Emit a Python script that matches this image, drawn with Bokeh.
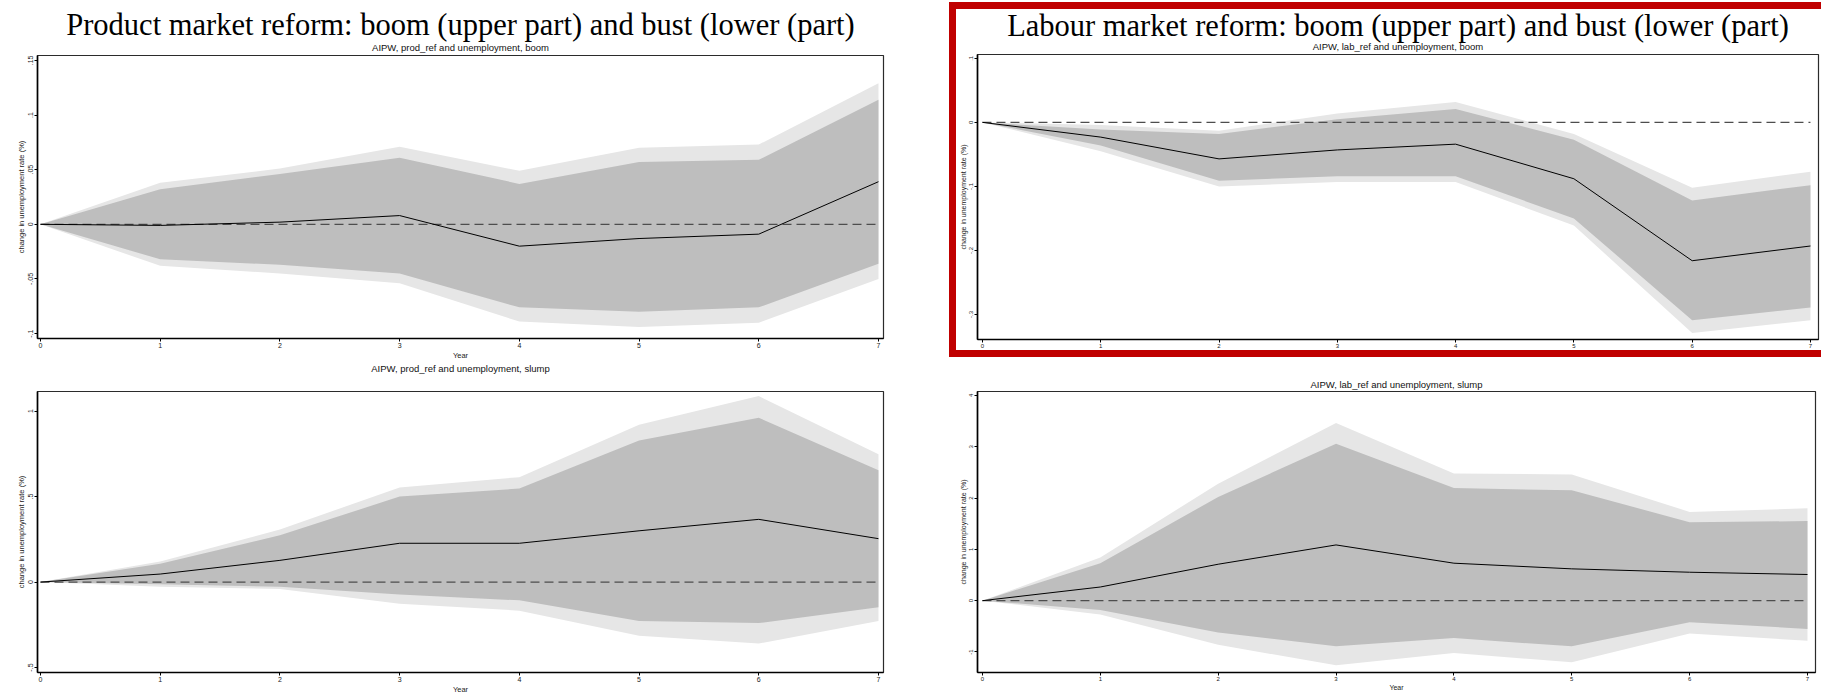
from bokeh.plotting import figure
from bokeh.models import FixedTicker, Title, Div, Spacer, Range1d
from bokeh.layouts import row, column
from bokeh.embed import file_html
from bokeh.resources import INLINE

# Horizon (years after the reform)
years = [0, 1, 2, 3, 4, 5, 6, 7]
zero = [0, 0, 0, 0, 0, 0, 0, 0]

# Product market reform, boom
prod_boom_est = [0, -0.001, 0.002, 0.008, -0.020, -0.013, -0.009, 0.039]
prod_boom_dark_lo = [0, -0.032, -0.037, -0.045, -0.076, -0.080, -0.076, -0.036]
prod_boom_dark_hi = [0, 0.032, 0.046, 0.061, 0.037, 0.057, 0.059, 0.114]
prod_boom_light_lo = [0, -0.038, -0.045, -0.054, -0.089, -0.094, -0.090, -0.050]
prod_boom_light_hi = [0, 0.038, 0.051, 0.071, 0.049, 0.070, 0.073, 0.129]

# Labour market reform, boom
lab_boom_est = [0, -0.023, -0.057, -0.043, -0.034, -0.088, -0.216, -0.193]
lab_boom_dark_lo = [0, -0.036, -0.091, -0.084, -0.084, -0.150, -0.309, -0.289]
lab_boom_dark_hi = [0, -0.011, -0.018, 0.005, 0.021, -0.027, -0.122, -0.098]
lab_boom_light_lo = [0, -0.045, -0.100, -0.093, -0.093, -0.161, -0.329, -0.309]
lab_boom_light_hi = [0, -0.004, -0.013, 0.014, 0.032, -0.018, -0.102, -0.077]

# Product market reform, slump
prod_slump_est = [0, 0.047, 0.127, 0.227, 0.227, 0.300, 0.367, 0.254]
prod_slump_dark_lo = [0, -0.013, -0.027, -0.073, -0.107, -0.227, -0.240, -0.147]
prod_slump_dark_hi = [0, 0.107, 0.274, 0.500, 0.547, 0.828, 0.961, 0.654]
prod_slump_light_lo = [0, -0.027, -0.040, -0.127, -0.167, -0.314, -0.360, -0.227]
prod_slump_light_hi = [0, 0.120, 0.307, 0.554, 0.614, 0.921, 1.088, 0.748]

# Labour market reform, slump
lab_slump_est = [0, 0.266, 0.71, 1.086, 0.73, 0.62, 0.554, 0.51]
lab_slump_dark_lo = [0, -0.18, -0.62, -0.89, -0.73, -0.89, -0.42, -0.55]
lab_slump_dark_hi = [0, 0.73, 2.02, 3.06, 2.195, 2.15, 1.53, 1.55]
lab_slump_light_lo = [0, -0.27, -0.86, -1.26, -1.02, -1.20, -0.64, -0.78]
lab_slump_light_hi = [0, 0.84, 2.28, 3.46, 2.48, 2.46, 1.73, 1.80]

# Tick positions and their Stata-style labels
prod_boom_ticks = [-0.1, -0.05, 0, 0.05, 0.1, 0.15]
prod_boom_labels = ["-.1", "-.05", "0", ".05", ".1", ".15"]
lab_boom_ticks = [-0.3, -0.2, -0.1, 0, 0.1]
lab_boom_labels = ["-.3", "-.2", "-.1", "0", ".1"]
prod_slump_ticks = [-0.5, 0, 0.5, 1]
prod_slump_labels = ["-.5", "0", ".5", "1"]
lab_slump_ticks = [-1, 0, 1, 2, 3, 4]
lab_slump_labels = ["-1", "0", "1", "2", "3", "4"]

# Headings
prod_heading = "Product market reform: boom (upper part) and bust (lower (part)"
lab_heading = "Labour market reform: boom (upper part) and bust (lower (part)"
prod_boom_sub = "AIPW, prod_ref and unemployment, boom"
lab_boom_sub = "AIPW, lab_ref and unemployment, boom"
prod_slump_sub = "AIPW, prod_ref and unemployment, slump"
lab_slump_sub = "AIPW, lab_ref and unemployment, slump"

LIGHT = "#e6e6e6"
DARK = "#bebebe"
RED = "#c00000"
SANS = "Liberation Sans"
SERIF = "Liberation Serif"


def sub_title(text, standoff, valign="bottom"):
    return Title(text=text, align="center", text_font=SANS,
                 text_font_size="9.5px", text_font_style="normal",
                 text_color="#111111", standoff=standoff,
                 vertical_align=valign)


def heading(text, standoff):
    return Title(text=text, align="center", text_font=SERIF,
                 text_font_size="30.5px", text_font_style="normal",
                 text_color="black", standoff=standoff)


def make_panel(width, height, x_rng, y_rng, est, dlo, dhi, llo, lhi,
               yticks, ylabels, borders, tick_font="7px",
               label_font="7.5px", xlabel="Year"):
    left, right, top, bottom = borders
    p = figure(width=width, height=height,
               x_range=Range1d(*x_rng), y_range=Range1d(*y_rng),
               output_backend="svg", toolbar_location=None, title=None,
               min_border_left=left, min_border_right=right,
               min_border_top=top, min_border_bottom=bottom,
               background_fill_color="white", border_fill_color="white")

    # confidence bands, zero reference and point estimate
    p.varea(x=years, y1=llo, y2=lhi, fill_color=LIGHT)
    p.varea(x=years, y1=dlo, y2=dhi, fill_color=DARK)
    p.line(x=years, y=zero, line_color="#4d4d4d", line_width=1.2,
           line_dash="9 5")
    p.line(x=years, y=est, line_color="black", line_width=1)

    p.xgrid.visible = False
    p.ygrid.visible = False
    p.outline_line_color = "#2b2b2b"
    p.outline_line_width = 1.2

    xa = p.xaxis[0]
    ya = p.yaxis[0]
    xa.ticker = FixedTicker(ticks=years)
    ya.ticker = FixedTicker(ticks=yticks)
    ya.major_label_overrides = dict(zip(yticks, ylabels))
    ya.major_label_orientation = "vertical"
    ya.axis_label = "change in unemployment rate (%)"
    if xlabel:
        xa.axis_label = xlabel
    for ax in (xa, ya):
        ax.axis_line_color = "black"
        ax.axis_line_width = 1.6
        ax.major_tick_line_color = "black"
        ax.major_tick_line_width = 1
        ax.major_tick_out = 3
        ax.major_tick_in = 0
        ax.minor_tick_line_color = None
        ax.major_label_text_font = SANS
        ax.major_label_text_font_size = tick_font
        ax.major_label_text_color = "#222222"
        ax.major_label_standoff = 1
        ax.axis_label_text_font = SANS
        ax.axis_label_text_font_style = "normal"
        ax.axis_label_text_font_size = label_font
        ax.axis_label_text_color = "#222222"
        ax.axis_label_standoff = 0
    return p


TOP_H = 375

tl = make_panel(949, TOP_H, (-0.025, 7.042), (-0.1045, 0.1545),
                prod_boom_est, prod_boom_dark_lo, prod_boom_dark_hi,
                prod_boom_light_lo, prod_boom_light_hi,
                prod_boom_ticks, prod_boom_labels,
                (37, 66, 55, TOP_H - 340))
tl.add_layout(sub_title(prod_boom_sub, 6), "above")
tl.add_layout(heading(prod_heading, -11), "above")
# caption of the lower product-market panel sits just under this one
tl.add_layout(sub_title(prod_slump_sub, 0, "top"), "below")

# labour boom panel, framed in red; it spans y = 9 .. 350 of the page
tr = make_panel(865, 341, (-0.042, 7.068), (-0.339, 0.106),
                lab_boom_est, lab_boom_dark_lo, lab_boom_dark_hi,
                lab_boom_light_lo, lab_boom_light_hi,
                lab_boom_ticks, lab_boom_labels,
                (20, 3, 45, 8), tick_font="6px", label_font="7px",
                xlabel=None)
tr.add_layout(sub_title(lab_boom_sub, 6), "above")
tr.add_layout(heading(lab_heading, -15), "above")

BOTTOM_H = 696 - TOP_H

bl = make_panel(949, BOTTOM_H, (-0.025, 7.042), (-0.529, 1.115),
                prod_slump_est, prod_slump_dark_lo, prod_slump_dark_hi,
                prod_slump_light_lo, prod_slump_light_hi,
                prod_slump_ticks, prod_slump_labels,
                (37, 66, 388 - TOP_H, 23))

br = make_panel(872, BOTTOM_H, (-0.042, 7.068), (-1.40, 4.076),
                lab_slump_est, lab_slump_dark_lo, lab_slump_dark_hi,
                lab_slump_light_lo, lab_slump_light_hi,
                lab_slump_ticks, lab_slump_labels,
                (28, 6, 391 - TOP_H, 18), tick_font="6px", label_font="7px")
br.add_layout(sub_title(lab_slump_sub, 3.4), "above")


def red_strip(w, h):
    return Div(text="", width=w, height=h, margin=0,
               styles={"background-color": RED})


# highlighted frame round the labour-market boom panel
tr_box = column(
    Spacer(width=872, height=2, margin=0),
    red_strip(872, 7),
    row(red_strip(7, 341), tr, spacing=0),
    red_strip(872, 7),
    Spacer(width=872, height=TOP_H - 357, margin=0),
    spacing=0,
)

layout = column(row(tl, tr_box, spacing=0), row(bl, br, spacing=0), spacing=0)

open("out.html", "w").write(file_html(layout, INLINE))
